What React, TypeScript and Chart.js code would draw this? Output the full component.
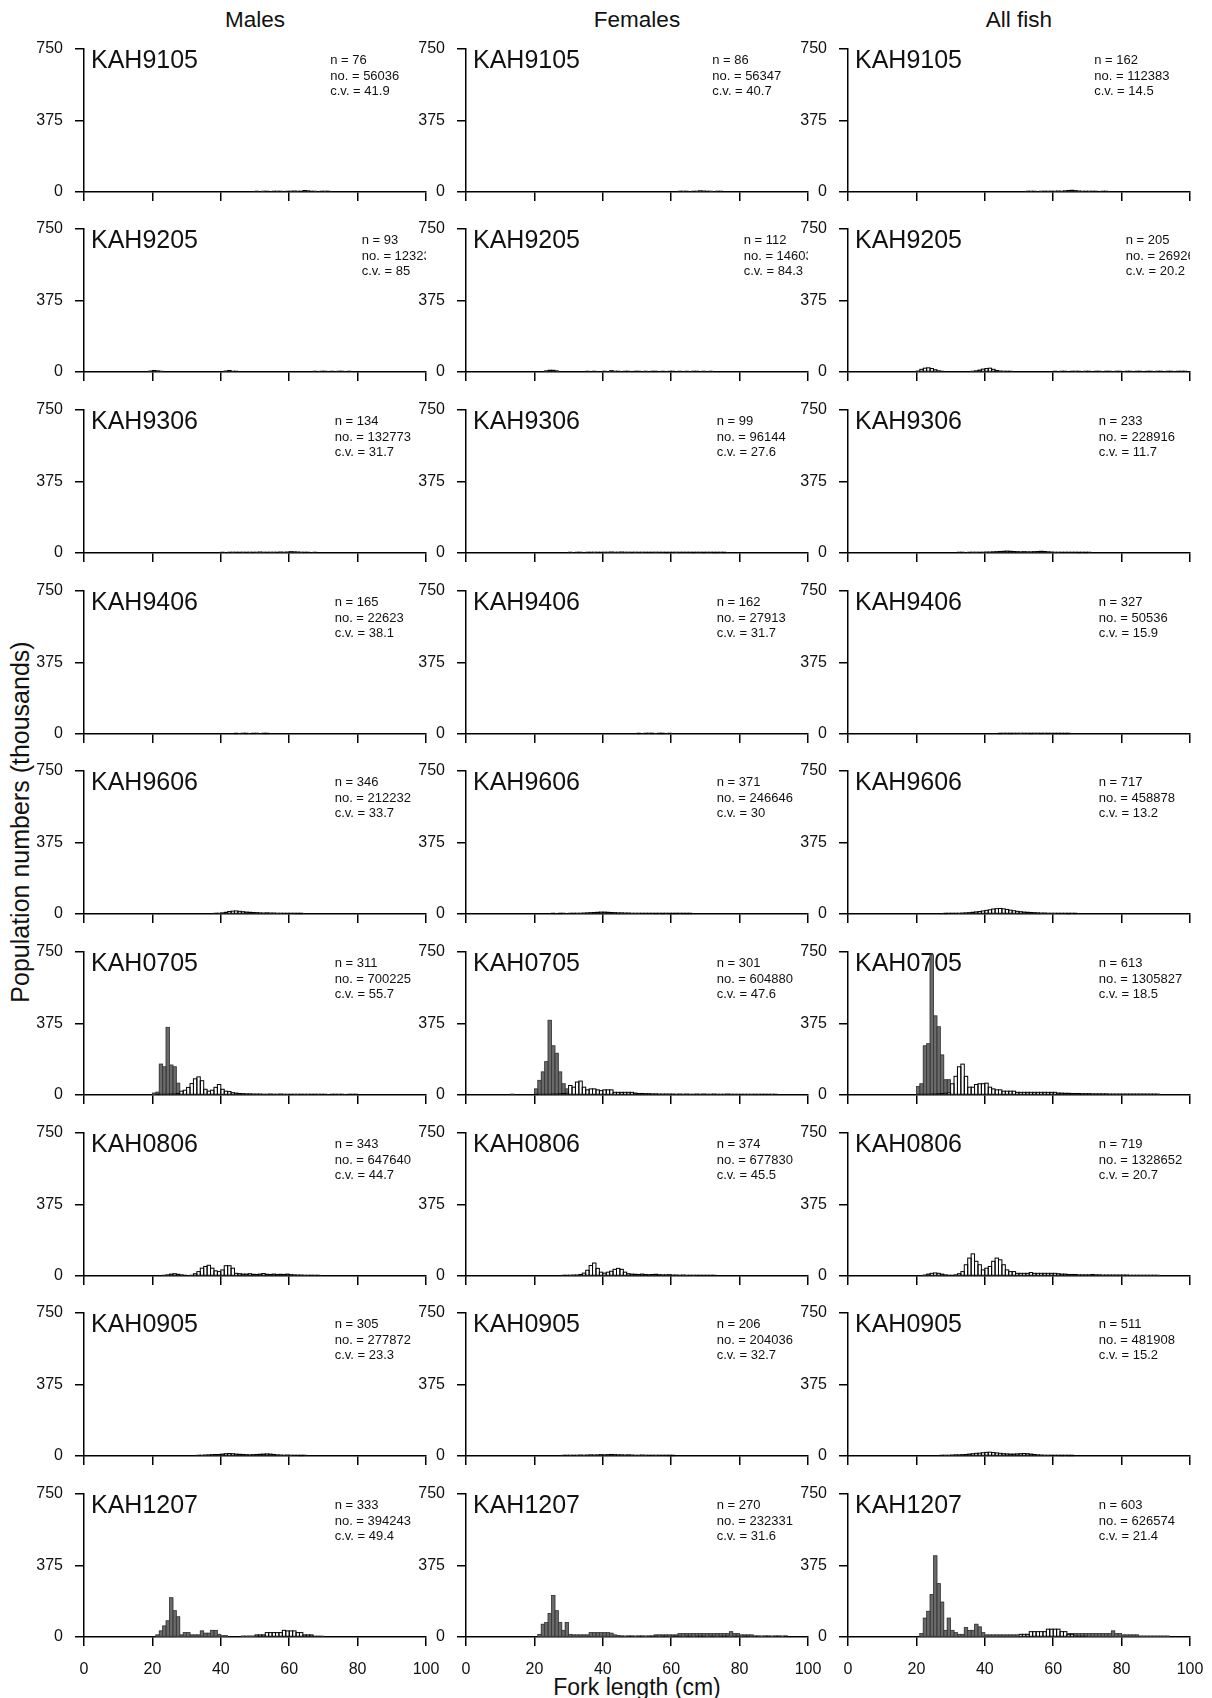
import { useEffect, useRef } from 'react';
import { Chart, registerables } from 'chart.js';

Chart.register(...registerables);

// A run of consecutive 1 cm length bins: [first bin (cm), heights in thousands]
type Run = [number, number[]];

const FONT = '"Liberation Sans", Arial, Helvetica, sans-serif';
const INK = '#111';

const surveys = ['KAH9105', 'KAH9205', 'KAH9306', 'KAH9406', 'KAH9606', 'KAH0705', 'KAH0806', 'KAH0905', 'KAH1207'];
const columnTitles = ['Males', 'Females', 'All fish'];
const yAxisTitle = 'Population numbers (thousands)';
const xAxisTitle = 'Fork length (cm)';

const xMin = 0;
const xMax = 100;
const xTickStep = 20;
const yMin = 0;
const yMax = 750;
const yTickStep = 375;

// where the n / no. / c.v. block starts, in fork length units, per survey
const noteX = [72, 81.2, 73.3, 73.3, 73.3, 73.3, 73.3, 73.3, 73.3];

const malesN = [76, 93, 134, 165, 346, 311, 343, 305, 333];
const malesNo = [56036, 123234, 132773, 22623, 212232, 700225, 647640, 277872, 394243];
const malesCv = ['41.9', '85', '31.7', '38.1', '33.7', '55.7', '44.7', '23.3', '49.4'];

const femalesN = [86, 112, 99, 162, 371, 301, 374, 206, 270];
const femalesNo = [56347, 146032, 96144, 27913, 246646, 604880, 677830, 204036, 232331];
const femalesCv = ['40.7', '84.3', '27.6', '31.7', '30', '47.6', '45.5', '32.7', '31.6'];

const allN = [162, 205, 233, 327, 717, 613, 719, 511, 603];
const allNo = [112383, 269266, 228916, 50536, 458878, 1305827, 1328652, 481908, 626574];
const allCv = ['14.5', '20.2', '11.7', '15.9', '13.2', '18.5', '20.7', '15.2', '21.4'];

// ---- Males ----
const males9105Open: Run[] = [[50, [3, 0, 4, 3, 0, 3, 4, 3, 0, 3, 4, 5, 4, 3, 8, 6, 3, 4, 0, 3, 4, 3]]];
const males9205Open: Run[] = [[19, [5, 8, 6, 4]], [41, [5, 8, 4, 3]], [67, [3, 0, 3, 3, 0, 3, 0, 3, 3, 0, 3]]];
const males9306Open: Run[] = [[40, [3, 0, 3, 4, 3, 3, 4, 3, 4, 3, 4, 5, 4, 3, 4, 4, 3, 5, 4, 5, 7, 6, 5, 4, 3, 3, 0, 3]]];
const males9406Open: Run[] = [[44, [2, 0, 3, 2, 0, 2, 3, 0, 2, 2]]];
const males9606Open: Run[] = [[38, [3, 4, 6, 9, 13, 15, 16, 14, 12, 10, 9, 8, 7, 6, 5, 6, 5, 5, 4, 4, 3, 3, 3, 3, 2, 2]]];
const males0705Shaded: Run[] = [[20, [10, 15, 162, 148, 355, 157, 148, 62, 14, 5]]];
const males0705Open: Run[] = [
  [21, [3, 4, 5, 5, 6, 6, 8]],
  [28, [20, 25, 40, 60, 85, 95, 75, 30, 20, 25, 40, 55, 30, 20, 18, 12, 10, 8]],
  [46, [7, 6, 6, 5, 5, 5, 4, 4, 5, 4, 4, 5, 4, 4, 3, 4, 4, 3, 4, 4, 3, 3, 4, 3, 3, 0, 3, 3, 4, 3, 0, 3, 3, 3]],
];
const males0806Open: Run[] = [
  [23, [4, 6, 10, 12, 9, 6, 3, 0, 4, 12, 23, 41, 50, 56, 41, 27, 23, 32, 54, 54, 41, 14, 12]],
  [46, [10, 10, 12, 9, 8, 10, 13, 9, 8, 10, 8, 9, 8, 10, 7, 6, 5, 5, 4, 4, 3, 4, 3]],
];
const males0905Open: Run[] = [[33, [3, 4, 5, 6, 7, 8, 8, 10, 12, 13, 12, 10, 9, 8, 7, 6, 7, 8, 9, 10, 11, 10, 8, 6, 5, 4, 5, 4, 3, 3, 2, 3]]];
const males1207Shaded: Run[] = [
  [21, [11, 32, 58, 85, 206, 138, 106, 11, 23, 23, 11, 11, 11, 32, 20, 20, 35, 35, 14, 7, 7]],
  [46, [5, 5, 5, 5, 5, 5, 5]],
];
const males1207Open: Run[] = [[50, [11, 11, 11, 23, 23, 23, 23, 23, 35, 32, 32, 32, 23, 23, 11, 11, 11, 4, 4, 4]]];

// ---- Females ----
const females9105Open: Run[] = [[62, [3, 4, 3, 0, 3, 4, 6, 5, 3, 4, 0, 3, 3]]];
const females9205Open: Run[] = [
  [23, [6, 9, 9, 6]],
  [35, [3, 0, 3, 0, 0, 3, 0, 7, 4, 3, 0, 3, 3, 0, 3, 3, 0, 3, 0, 3, 3, 0, 3, 0, 3, 3, 0, 3, 0, 3, 0, 3, 3, 0, 3, 0, 3]],
];
const females9306Open: Run[] = [[30, [3, 0, 3, 3, 0, 3, 3, 4, 3, 3, 4, 4, 5, 4, 4, 5, 4, 4, 3, 4, 3, 4, 3, 3, 3, 4, 3, 3, 2, 3, 3, 4, 3, 3, 3, 3, 2, 3, 3, 2, 3, 3, 2, 2, 3, 2]]];
const females9406Open: Run[] = [[50, [2, 0, 2, 3, 2, 0, 2, 2, 0, 2]]];
const females9606Open: Run[] = [[25, [2, 0, 2, 3, 0, 3, 3, 4, 4, 5, 6, 7, 8, 9, 10, 10, 9, 8, 7, 6, 6, 5, 5, 4, 4, 4, 3, 3, 3, 3, 2, 3, 2, 3, 2, 2, 2, 3, 2, 2, 2]]];
const females0705Shaded: Run[] = [[20, [32, 77, 121, 175, 392, 258, 219, 121, 59, 32]]];
const females0705Open: Run[] = [
  [13, [4]],
  [20, [3, 4, 4, 5, 5, 6, 6, 7, 8, 10]],
  [30, [50, 41, 68, 73, 41, 27, 32, 32, 27, 23, 27, 27, 27, 14, 14, 14, 14, 14, 14, 10, 8, 8, 7, 7, 6, 6, 5, 5, 5, 5, 5, 4, 5, 4, 5, 4, 4, 5, 4, 5, 4, 4, 5, 4, 4, 4, 5, 4, 4, 4, 3, 4, 4, 4, 3, 4, 3, 3, 3, 4, 3]],
];
const females0806Open: Run[] = [[28, [3, 3, 4, 5, 5, 8, 15, 30, 55, 68, 40, 20, 15, 20, 25, 35, 40, 35, 20, 12, 10, 9, 8, 10, 8, 7, 8, 9, 7, 6, 6, 7, 5, 5, 4, 5, 4, 3, 4, 3, 3, 3, 3, 3, 3]]];
const females0905Open: Run[] = [[28, [3, 3, 4, 3, 4, 5, 4, 5, 6, 5, 6, 7, 6, 7, 8, 7, 6, 6, 5, 6, 5, 4, 4, 5, 4, 3, 3, 4, 3, 3, 3, 2, 2]]];
const females1207Shaded: Run[] = [
  [21, [14, 67, 76, 124, 218, 138, 76, 35, 76, 14, 11, 11, 11, 11, 11, 23, 23, 23, 23, 23, 23, 20, 11, 8]],
  [45, [5, 5, 5, 5, 5, 5, 5, 5, 5, 5, 11, 11, 11, 11, 11, 11, 11]],
  [62, [18, 18, 18, 18, 18, 18, 18, 18, 18, 18, 18, 18, 18, 18, 18, 28, 18, 18, 11, 11, 11, 11, 5, 5, 5, 5, 5, 5, 5, 5, 5, 5]],
];
const females1207Open: Run[] = [[45, [4, 0, 4, 4, 0, 4, 4, 0, 4, 4, 4, 0, 4, 4, 0, 4, 4, 4, 0, 4, 4, 0, 4, 4, 4, 0, 4, 4, 0, 4, 4, 4, 0, 4, 4, 0, 4, 4, 0, 4, 4, 0, 4, 4, 0, 4, 4, 0, 3]]];

// ---- All fish ----
const all9105Open: Run[] = [[52, [3, 4, 3, 0, 4, 3, 4, 3, 4, 5, 4, 6, 8, 9, 7, 5, 4, 3, 4, 3, 3, 0, 3, 3]]];
const all9205Open: Run[] = [
  [20, [5, 14, 20, 22, 18, 12, 6, 3]],
  [36, [4, 6, 10, 15, 18, 20, 14, 8, 5, 4, 3, 3]],
  [60, [3, 0, 3, 3, 0, 3, 4, 3, 0, 3, 3, 0, 3, 3, 0, 3, 3, 0, 3, 3, 0, 3, 3, 0, 3, 3, 0, 3, 3, 0, 3, 3, 0, 3, 3, 0, 3, 3, 3]],
];
const all9306Open: Run[] = [[32, [3, 3, 0, 3, 4, 4, 3, 4, 5, 5, 6, 7, 8, 9, 10, 9, 8, 7, 6, 7, 6, 6, 7, 8, 9, 8, 6, 5, 4, 4, 3, 3, 3, 3, 3, 2, 3, 2, 3]]];
const all9406Open: Run[] = [[44, [2, 3, 3, 2, 3, 3, 4, 3, 3, 2, 3, 3, 2, 3, 2, 3, 2, 2, 2, 2, 2]]];
const all9606Open: Run[] = [[28, [2, 3, 3, 3, 4, 5, 6, 7, 9, 11, 13, 16, 19, 22, 26, 28, 29, 27, 24, 20, 17, 14, 12, 10, 9, 8, 7, 6, 5, 5, 4, 4, 4, 3, 3, 3, 2, 3, 2]]];
const all0705Shaded: Run[] = [[20, [45, 59, 258, 269, 735, 415, 358, 210, 80, 80, 20]]];
const all0705Open: Run[] = [
  [20, [4, 4, 5, 5, 6, 6, 7, 8, 10, 12]],
  [30, [59, 98, 148, 162, 98, 41, 41, 55, 59, 59, 62, 41, 32, 27, 27, 20, 20, 20, 20, 14, 14, 14, 14, 14, 14, 14, 14, 14, 14, 14, 14, 10, 10, 9, 9, 8, 8, 8, 7, 7, 7, 6, 6, 6, 6, 6, 5, 5, 5, 5, 5, 5, 5, 5, 5, 5, 5, 5, 5, 5, 5]],
];
const all0806Open: Run[] = [[22, [5, 10, 14, 16, 14, 10, 6, 3, 3, 6, 12, 23, 59, 94, 116, 77, 59, 32, 41, 50, 77, 94, 85, 59, 32, 23, 23, 14, 14, 14, 14, 18, 14, 14, 14, 14, 14, 14, 14, 12, 10, 10, 8, 8, 8, 6, 6, 6, 6, 8, 6, 6, 5, 5, 5, 5, 5, 5, 5, 5, 4, 4, 4, 4, 4, 4, 4, 4, 4]]];
const all0905Open: Run[] = [[27, [3, 4, 4, 5, 6, 6, 7, 8, 10, 12, 14, 15, 17, 19, 20, 18, 16, 14, 12, 11, 10, 10, 11, 12, 13, 12, 10, 8, 6, 5, 4, 4, 3, 3, 3, 2, 3, 2, 2]]];
const all1207Shaded: Run[] = [
  [21, [18, 99, 135, 223, 426, 280, 183, 35, 99, 35, 23, 14, 14, 50, 35, 35, 67, 53, 23, 11, 11, 11, 11, 11, 11, 11, 11, 11, 11, 5, 5, 5, 5, 5, 5, 5, 5, 5, 5, 5]],
  [64, [18, 18, 18, 18, 18, 18, 18, 18, 18, 18, 18, 18, 18, 32, 18, 18, 11, 11, 11, 11, 11, 5, 5, 5, 5, 5, 5, 5, 5, 5]],
];
const all1207Open: Run[] = [[50, [14, 14, 14, 28, 28, 28, 28, 28, 41, 41, 41, 41, 28, 28, 14, 14, 5, 5, 4, 4]]];

const none: Run[] = [];

const malesShaded = [none, none, none, none, none, males0705Shaded, none, none, males1207Shaded];
const malesOpen = [males9105Open, males9205Open, males9306Open, males9406Open, males9606Open, males0705Open, males0806Open, males0905Open, males1207Open];
const femalesShaded = [none, none, none, none, none, females0705Shaded, none, none, females1207Shaded];
const femalesOpen = [females9105Open, females9205Open, females9306Open, females9406Open, females9606Open, females0705Open, females0806Open, females0905Open, females1207Open];
const allShaded = [none, none, none, none, none, all0705Shaded, none, none, all1207Shaded];
const allOpen = [all9105Open, all9205Open, all9306Open, all9406Open, all9606Open, all0705Open, all0806Open, all0905Open, all1207Open];

const columns = [
  { shaded: malesShaded, open: malesOpen, n: malesN, no: malesNo, cv: malesCv },
  { shaded: femalesShaded, open: femalesOpen, n: femalesN, no: femalesNo, cv: femalesCv },
  { shaded: allShaded, open: allOpen, n: allN, no: allNo, cv: allCv },
];

// bar styling: [open, shaded]
const barFill = ['#ffffff', '#6a6a6a'];
const barOutline = ['#000000', '#3a3a3a'];
const barOutlineWidth = [1, 0.8];

// ---- layout (px) ----
const PLOT_LEFT = [84, 466, 848];
const PLOT_W = 342;
const PLOT_H = 143;
const ROW_TOP0 = 48.5;
const ROW_PITCH = 180.7;
const GUTTER_L = 80;
const PAD_TOP = 26;
const PAD_RIGHT = 32;
const rowTop = (r: number) => Math.round(ROW_TOP0 + r * ROW_PITCH);

function toBars(runs: Run[]) {
  const heights: (number | null)[] = Array(xMax - xMin).fill(null);
  runs.forEach(([from, vals]) => {
    vals.forEach((v, i) => {
      if (v > 0) heights[from - xMin + i] = v;
    });
  });
  return heights.map((v, k) => ({ x: xMin + k + 0.5, y: v }));
}

// Outlines each bar with a stroke centred on its edges, so even the
// smallest bins show as a dark line along the axis.
const barOutlines = {
  id: 'barOutlines',
  afterDatasetDraw(chart: Chart, args: any) {
    const meta = args.meta;
    const idx = args.index;
    const { ctx, chartArea: a } = chart;
    ctx.save();
    ctx.beginPath();
    ctx.rect(a.left, a.top - 20, a.right - a.left, a.bottom - a.top + 21);
    ctx.clip();
    ctx.strokeStyle = barOutline[idx];
    ctx.lineWidth = barOutlineWidth[idx];
    meta.data.forEach((el: any, i: number) => {
      const v = meta._parsed[i] ? meta._parsed[i].y : null;
      if (v == null) return;
      const { x, y, base, width } = el.getProps(['x', 'y', 'base', 'width'], true);
      ctx.strokeRect(x - width / 2, y, width, base - y);
    });
    ctx.restore();
  },
};

function Panel({ row, col }: { row: number; col: number }) {
  const ref = useRef<HTMLCanvasElement>(null);
  const isLast = row === surveys.length - 1;
  const bottomH = isLast ? 52 : 26;
  const width = GUTTER_L + PLOT_W + PAD_RIGHT;
  const height = PAD_TOP + PLOT_H + bottomH;
  const left = PLOT_LEFT[col] - GUTTER_L;
  const top = rowTop(row) - PAD_TOP;

  useEffect(() => {
    const canvas = ref.current;
    if (!canvas) return;
    const c = columns[col];
    const title = surveys[row];
    const lines = [`n = ${c.n[row]}`, `no. = ${c.no[row]}`, `c.v. = ${c.cv[row]}`];
    const nx = noteX[row];

    const panelText = {
      id: 'panelText',
      beforeDatasetsDraw(chart: Chart) {
        const { ctx, chartArea: a } = chart;
        const xs = chart.scales.x;
        ctx.save();
        ctx.fillStyle = INK;
        ctx.textAlign = 'left';
        ctx.textBaseline = 'alphabetic';
        ctx.font = `25px ${FONT}`;
        ctx.fillText(title, a.left + 7, a.top + 19);
        ctx.beginPath();
        ctx.rect(a.left, a.top - PAD_TOP, a.right - a.left, a.bottom - a.top + PAD_TOP);
        ctx.clip();
        ctx.font = `13px ${FONT}`;
        const x = xs.getPixelForValue(nx);
        lines.forEach((t, i) => ctx.fillText(t, x, a.top + 15 + i * 15.5));
        ctx.restore();
      },
    };

    const axisGrid = {
      drawOnChartArea: false,
      drawTicks: true,
      tickLength: 9,
      color: '#000',
      lineWidth: 1.5,
      offset: false,
    };
    const axisBorder = { display: true, color: '#000', width: 1.5 };

    const chart = new Chart(canvas, {
      type: 'bar',
      data: {
        datasets: [
          { data: toBars(c.open[row]) as any, backgroundColor: barFill[0], borderWidth: 0, order: 1 },
          { data: toBars(c.shaded[row]) as any, backgroundColor: barFill[1], borderWidth: 0, order: 2 },
        ],
      },
      options: {
        animation: false,
        responsive: false,
        maintainAspectRatio: false,
        events: [],
        layout: { padding: { top: PAD_TOP, right: PAD_RIGHT, bottom: 0, left: 0 } },
        datasets: {
          bar: { grouped: false, barPercentage: 1, categoryPercentage: 1, borderSkipped: 'start' },
        },
        plugins: { legend: { display: false }, tooltip: { enabled: false }, title: { display: false } },
        scales: {
          x: {
            type: 'linear',
            min: xMin,
            max: xMax,
            offset: false,
            grid: axisGrid,
            border: axisBorder,
            ticks: {
              display: isLast,
              stepSize: xTickStep,
              padding: 14,
              color: INK,
              font: { family: FONT, size: 16 },
              maxRotation: 0,
              autoSkip: false,
            },
            afterFit: (s: any) => {
              s.height = bottomH;
            },
          },
          y: {
            type: 'linear',
            min: yMin,
            max: yMax,
            grid: axisGrid,
            border: axisBorder,
            ticks: {
              stepSize: yTickStep,
              padding: 12,
              color: INK,
              font: { family: FONT, size: 16 },
            },
            afterFit: (s: any) => {
              s.width = GUTTER_L;
            },
          },
        },
      } as any,
      plugins: [panelText as any, barOutlines as any],
    });
    return () => chart.destroy();
  }, [row, col, bottomH]);

  return (
    <canvas
      ref={ref}
      width={width}
      height={height}
      style={{ position: 'absolute', left, top, width, height }}
    />
  );
}

const titleStyle = {
  position: 'absolute' as const,
  fontFamily: FONT,
  fontSize: 23,
  color: INK,
  textAlign: 'center' as const,
  lineHeight: '28px',
  height: 28,
  whiteSpace: 'nowrap' as const,
};

export default function App() {
  const panels = [];
  for (let r = 0; r < surveys.length; r++) {
    for (let c = 0; c < 3; c++) panels.push(<Panel key={`${r}-${c}`} row={r} col={c} />);
  }
  return (
    <div style={{ position: 'absolute', left: 0, top: 0, width: 1212, height: 1698, background: '#fff', overflow: 'hidden' }}>
      {columnTitles.map((t, c) => (
        <div key={t} style={{ ...titleStyle, left: PLOT_LEFT[c] + PLOT_W / 2 - 150, width: 300, top: 6, fontSize: 22.5 }}>
          {t}
        </div>
      ))}
      <div style={{ ...titleStyle, left: 19.5 - 250, top: 822 - 14, width: 500, fontSize: 25, transform: 'rotate(-90deg)' }}>
        {yAxisTitle}
      </div>
      <div style={{ ...titleStyle, left: PLOT_LEFT[1] + PLOT_W / 2 - 150, width: 300, top: 1688 - 15 }}>
        {xAxisTitle}
      </div>
      {panels}
    </div>
  );
}
